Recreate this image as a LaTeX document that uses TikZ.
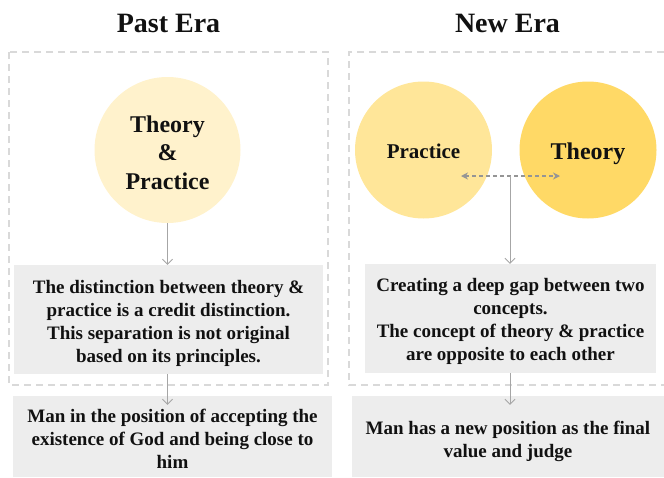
\documentclass[tikz,border=0pt]{standalone}
\usepackage{fontspec}
\setmainfont{Liberation Serif}
\usetikzlibrary{arrows.meta}
\definecolor{circA}{HTML}{FFF2CC}
\definecolor{circB}{HTML}{FFE699}
\definecolor{circC}{HTML}{FFD966}
\definecolor{boxgray}{HTML}{EDEDED}
\definecolor{dashgray}{HTML}{D9D9D9}
\definecolor{arrgray}{HTML}{A6A6A6}
\definecolor{txt}{HTML}{111111}
\tikzset{
  titletext/.style={anchor=base, font=\bfseries\fontsize{28}{32}\selectfont, text=txt},
  circbase/.style={circle, draw=none, inner sep=0pt},
  circtext/.style={align=center, text=txt, font=\bfseries\fontsize{24}{28.7}\selectfont},
  gbox/.style={rectangle, fill=boxgray, draw=none, inner sep=0pt},
  btext/.style={align=center, text=txt, font=\bfseries\fontsize{19}{23}\selectfont},
  frame/.style={draw=dashgray, line width=1.4pt, dash pattern=on 7pt off 5pt},
  arr/.style={draw=arrgray, line width=0.9pt, -{Straight Barb[length=5pt,width=10pt]}},
  dblarr/.style={draw=arrgray!90!black, line width=1.2pt, dash pattern=on 4pt off 3pt,
     {Stealth[length=7pt,width=7pt]}-{Stealth[length=7pt,width=7pt]}},
}
\begin{document}
\begin{tikzpicture}[x=1pt,y=-1pt]
\useasboundingbox (0,0) rectangle (664,477);

% titles
\node[titletext] (t1) at (168.5,32) {Past Era};
\node[titletext] (t2) at (507.5,32) {New Era};

% dashed frames
\draw[frame] (9,52) rectangle (328,385);
\draw[frame] (664,52) -- (349,52) -- (349,385) -- (664,385);

% left column
\node[circbase, fill=circA, minimum size=146pt] (c1) at (167.5,150) {};
\node[circtext] (c1t) at ([yshift=-2.5pt]c1.center) {Theory\\\&\\Practice};

\node[gbox, minimum width=309pt, minimum height=109pt] (b1) at (168.5,319.5) {};
\node[btext] (b1t) at ([yshift=-4pt]b1.center) {The distinction between theory \&\\practice is a credit distinction.\\This separation is not original\\based on its principles.};

\node[gbox, minimum width=319pt, minimum height=81pt] (b2) at (172.5,436.5) {};
\node[btext] (b2t) at ([yshift=-2pt]b2.center) {Man in the position of accepting the\\existence of God and being close to\\him};

\draw[arr] (c1.south) -- (c1.south |- b1.north);
\draw[arr] (c1.south |- b1.south) -- ([yshift=-9pt]c1.south |- b2.north);

% right column
\node[circbase, fill=circB, minimum size=137pt] (c2) at (423.5,150) {};
\node[circbase, fill=circC, minimum size=137pt] (c3) at (588,150) {};
\node[circtext, font=\bfseries\fontsize{21}{25}\selectfont] (c2t) at ([yshift=-1.8pt]c2.center) {Practice};
\node[circtext] (c3t) at ([yshift=-3.7pt]c3.center) {Theory};

\coordinate (gl) at (461,176);
\coordinate (gr) at (560,176);
\coordinate (gm) at (510,176);
\draw[dblarr] (gl) -- (gr);

\node[gbox, minimum width=291pt, minimum height=109pt] (b3) at (510.5,318.5) {};
\node[btext] (b3t) at ([yshift=-3pt]b3.center) {Creating a deep gap between two\\concepts.\\The concept of theory \& practice\\are opposite to each other};

\node[gbox, minimum width=312pt, minimum height=81pt] (b4) at (508,436.5) {};
\node[btext] (b4t) at ([yshift=-5pt]b4.center) {Man has a new position as the final\\value and judge};

\draw[arr] (gm) -- (gm |- b3.north);
\draw[arr] (gm |- b3.south) -- ([yshift=-9pt]gm |- b4.north);
\end{tikzpicture}
\end{document}
